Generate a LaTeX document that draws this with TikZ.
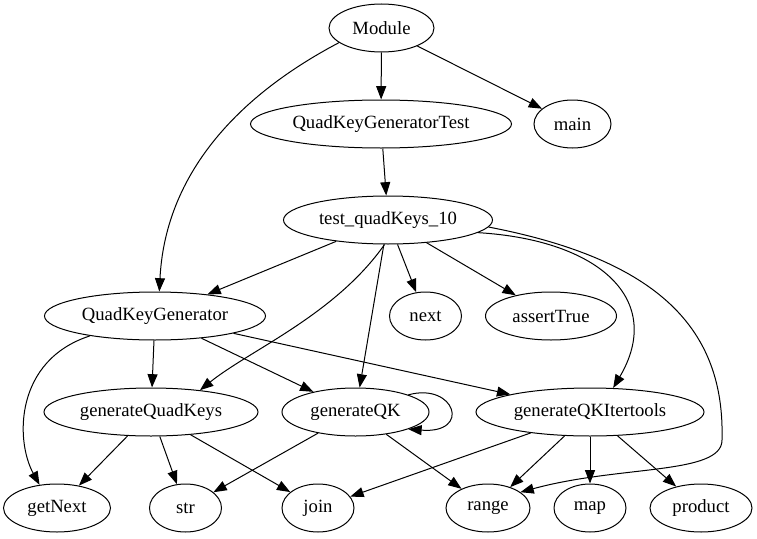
\documentclass[tikz,border=0pt]{standalone}
\usepackage{fontspec}
\setmainfont{Liberation Serif}
\usetikzlibrary{shapes.geometric,arrows.meta}
\begin{document}
\begin{tikzpicture}[x=0.75pt,y=-0.75pt,
  nd/.style={ellipse,draw,line width=0.75pt,inner sep=0pt,minimum height=36pt,font=\fontsize{14}{16}\selectfont},
  edge/.style={line width=0.75pt,-{Triangle[length=10pt,width=7.5pt]}}]
\useasboundingbox (0,0) rectangle (757,539);
% row 1
\node[nd,minimum width=78.75pt] (Module) at (381.5,28) {Module};
% row 2
\node[nd,minimum width=195.75pt] (QKGT) at (381,124) {QuadKeyGeneratorTest};
\node[nd,minimum width=57.75pt] (main) at (572.5,124) {main};
% row 3
\node[nd,minimum width=156.75pt] (test) at (388,220) {test\_quadKeys\_10};
% row 4
\node[nd,minimum width=165.75pt] (QKG) at (155,316) {QuadKeyGenerator};
\node[nd,minimum width=54pt] (next) at (425.5,316) {next};
\node[nd,minimum width=98.25pt] (assertTrue) at (551,316) {assertTrue};
% row 5
\node[nd,minimum width=160.5pt] (gQuadKeys) at (151,412) {generateQuadKeys};
\node[nd,minimum width=110.25pt] (gQK) at (355.5,412) {generateQK};
\node[nd,minimum width=171pt] (gQKIt) at (590,412) {generateQKItertools};
% row 6
\node[nd,minimum width=80.25pt] (getNext) at (57,508) {getNext};
\node[nd,minimum width=54pt] (str) at (185.5,508) {str};
\node[nd,minimum width=54pt] (join) at (318,508) {join};
\node[nd,minimum width=63pt] (range) at (488,508) {range};
\node[nd,minimum width=54pt] (map) at (590,508) {map};
\node[nd,minimum width=76.5pt] (product) at (701,508) {product};

% edges from Module
\draw[edge] (Module) -- (QKGT);
\draw[edge] (Module) -- (main);
\draw[edge] (Module.199) .. controls (230,100) and (165,180) .. (QKG.80);
% QKGT
\draw[edge] (QKGT) -- (test);
% test
\draw[edge] (test) -- (QKG);
\draw[edge] (test.262) .. controls (335,315) and (250,350) .. (gQuadKeys.24);
\draw[edge] (test) -- (gQK);
\draw[edge] (test) -- (next);
\draw[edge] (test) -- (assertTrue);
\draw[edge] (test.-8) .. controls (600,240) and (665,300) .. (gQKIt.46);
\draw[edge] (test.-4) .. controls (660,260) and (725,330) .. (722,440)
            .. controls (722,475) and (620,465) .. (range.26);
% QKG
\draw[edge] (QKG.197) .. controls (15,360) and (15,440) .. (getNext.127);
\draw[edge] (QKG) -- (gQuadKeys);
\draw[edge] (QKG) -- (gQK);
\draw[edge] (QKG) -- (gQKIt);
% generateQuadKeys
\draw[edge] (gQuadKeys) -- (getNext);
\draw[edge] (gQuadKeys) -- (str);
\draw[edge] (gQuadKeys) -- (join);
% generateQK
\draw[edge] (gQK.18) .. controls (455,382) and (472,434) .. (gQK.-18);
\draw[edge] (gQK) -- (str);
\draw[edge] (gQK) -- (range);
% generateQKItertools
\draw[edge] (gQKIt) -- (join);
\draw[edge] (gQKIt) -- (range);
\draw[edge] (gQKIt) -- (map);
\draw[edge] (gQKIt) -- (product);
\end{tikzpicture}
\end{document}
